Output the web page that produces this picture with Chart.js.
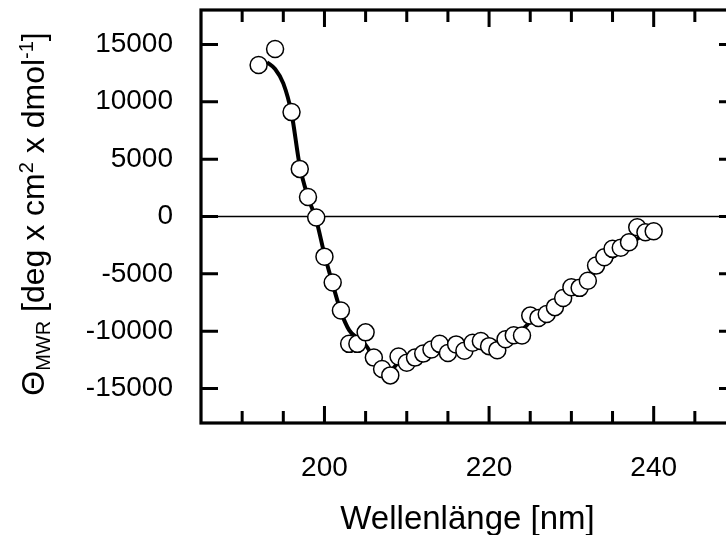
<!DOCTYPE html>
<html><head><meta charset="utf-8">
<script src="https://cdn.jsdelivr.net/npm/chart.js@4/dist/chart.umd.min.js"></script>
<style>
html,body{margin:0;padding:0;background:#fff;overflow:hidden;width:726px;height:535px;}
#wrap{position:absolute;left:0;top:0;width:760px;height:535px;}
</style></head><body>
<div id="wrap"><canvas id="c" width="760" height="535"></canvas></div>
<script>
// Measured CD data points
const wavelengths = [192,194,196,197,198,199,200,201,202,203,204,205,206,207,208,209,210,211,212,213,214,215,216,217,218,219,220,221,222,223,224,225,226,227,228,229,230,231,232,233,234,235,236,237,238,239,240];
const ellipticity = [13200,14600,9100,4150,1700,-80,-3500,-5750,-8200,-11100,-11100,-10100,-12300,-13300,-13850,-12200,-12750,-12300,-11950,-11600,-11100,-11900,-11150,-11700,-11000,-10850,-11300,-11650,-10700,-10350,-10380,-8640,-8840,-8500,-7900,-7100,-6170,-6220,-5600,-4280,-3550,-2820,-2730,-2240,-930,-1370,-1280];
// Fitted curve
const fitWavelengths = [193,194,195,196,197,198,199,200,201,202,203,204,205,206,207,208,209,210,211,212,213,214,215,216,217,218,219,220,221,222,223,224,225,226,227,228,229,230,231,232,233,234,235,236,237,238,239,240];
const fitValues = [13450,12850,11600,9000,4400,1700,-300,-3300,-5900,-8300,-9900,-10600,-11200,-12300,-13100,-13400,-12700,-12300,-12000,-11800,-11600,-11450,-11350,-11250,-11200,-11150,-11100,-11050,-10950,-10750,-10450,-9900,-9200,-8750,-8250,-7700,-7100,-6500,-5950,-5350,-4750,-4150,-3550,-3000,-2450,-1950,-1500,-1100];
// Axes
const xTickValues = [185,190,195,200,205,210,215,220,225,230,235,240,245,250];
const xLabelValues = [200,220,240];
const yTickValues = [-15000,-10000,-5000,0,5000,10000,15000];
const xTitle = 'Wellenlänge [nm]';
const yTitleParts = [
  {t:'Θ', k:'n'}, {t:'MWR', k:'sub'}, {t:' [deg x cm', k:'n'}, {t:'2', k:'sup'},
  {t:' x dmol', k:'n'}, {t:'-1', k:'sup'}, {t:']', k:'n'}
];

const FONT = "'Liberation Sans', Arial, Helvetica, sans-serif";

const framePlugin = {
  id: 'frame',
  beforeDatasetsDraw(chart) {
    const {ctx, chartArea: a, scales: {y}} = chart;
    const y0 = y.getPixelForValue(0);
    ctx.save();
    ctx.strokeStyle = '#000'; ctx.lineWidth = 1.3;
    ctx.beginPath(); ctx.moveTo(a.left, y0); ctx.lineTo(a.right, y0); ctx.stroke();
    ctx.restore();
  },
  afterDatasetsDraw(chart) {
    const {ctx, chartArea: a, scales: {x, y}} = chart;
    ctx.save();
    ctx.strokeStyle = '#000'; ctx.lineWidth = 3; ctx.lineCap = 'butt';
    ctx.beginPath();
    xTickValues.forEach(v => {
      if (v <= x.min || v >= x.max) return;
      const px = x.getPixelForValue(v);
      const len = xLabelValues.includes(v) ? 17 : 12;
      ctx.moveTo(px, a.bottom); ctx.lineTo(px, a.bottom - len);
      ctx.moveTo(px, a.top); ctx.lineTo(px, a.top + len);
    });
    yTickValues.forEach(v => {
      const py = y.getPixelForValue(v);
      ctx.moveTo(a.left, py); ctx.lineTo(a.left + 17, py);
      ctx.moveTo(a.right, py); ctx.lineTo(a.right - 17, py);
    });
    ctx.stroke();
    ctx.lineWidth = 3.2;
    ctx.strokeRect(a.left, a.top, a.right - a.left, a.bottom - a.top);
    ctx.restore();
  },
  afterDraw(chart) {
    const {ctx, chartArea: a} = chart;
    ctx.save();
    ctx.fillStyle = '#000';
    ctx.font = `33px ${FONT}`;
    ctx.textAlign = 'center'; ctx.textBaseline = 'alphabetic';
    ctx.fillText(xTitle, (a.left + a.right) / 2 - 1, 529);
    // y title
    const fontFor = k => k === 'n' ? `32px ${FONT}` : `20px ${FONT}`;
    let W = 0;
    yTitleParts.forEach(p => { ctx.font = fontFor(p.k); W += ctx.measureText(p.t).width; });
    ctx.translate(44, 214 + W / 2);
    ctx.rotate(-Math.PI / 2);
    ctx.textAlign = 'left';
    let cx = 0;
    yTitleParts.forEach(p => {
      ctx.font = fontFor(p.k);
      const dy = p.k === 'sub' ? 6 : (p.k === 'sup' ? -11 : 0);
      ctx.fillText(p.t, cx, dy);
      cx += ctx.measureText(p.t).width;
    });
    ctx.restore();
  }
};

new Chart(document.getElementById('c'), {
  type: 'scatter',
  data: {
    datasets: [
      {
        label: 'Messwerte',
        data: wavelengths.map((w, i) => ({x: w, y: ellipticity[i]})),
        showLine: false,
        pointRadius: 8.5, pointHoverRadius: 8.5,
        pointBackgroundColor: '#fff', pointBorderColor: '#000', pointBorderWidth: 1.5,
        order: 0
      },
      {
        label: 'Fit',
        type: 'line',
        data: fitWavelengths.map((w, i) => ({x: w, y: fitValues[i]})),
        showLine: true,
        borderColor: '#000', borderWidth: 4,
        pointRadius: 0, fill: false,
        cubicInterpolationMode: 'monotone',
        order: 1
      }
    ]
  },
  options: {
    responsive: false, animation: false, devicePixelRatio: 1,
    layout: {padding: {left: 0, top: 10, right: 24, bottom: 0}},
    plugins: {legend: {display: false}, tooltip: {enabled: false}},
    scales: {
      x: {
        type: 'linear', min: 185, max: 250,
        grid: {display: false, drawTicks: false}, border: {display: false},
        afterBuildTicks: s => { s.ticks = xTickValues.map(v => ({value: v})); },
        afterFit: s => { s.height = 112; s.paddingLeft = 0; s.paddingRight = 0; s.paddingTop = 0; s.paddingBottom = 0; },
        ticks: {
          autoSkip: false, maxRotation: 0, minRotation: 0, padding: 28, color: '#000',
          font: {family: FONT, size: 28},
          callback: v => xLabelValues.includes(v) ? String(v) : ''
        }
      },
      y: {
        min: -18000, max: 18000,
        grid: {display: false, drawTicks: false}, border: {display: false},
        afterBuildTicks: s => { s.ticks = yTickValues.map(v => ({value: v})); },
        afterFit: s => { s.width = 201; s.paddingTop = 0; s.paddingBottom = 0; s.paddingLeft = 0; s.paddingRight = 0; },
        ticks: {
          padding: 28, color: '#000', font: {family: FONT, size: 28},
          callback: v => String(v)
        }
      }
    }
  },
  plugins: [framePlugin]
});
</script>
</body></html>
